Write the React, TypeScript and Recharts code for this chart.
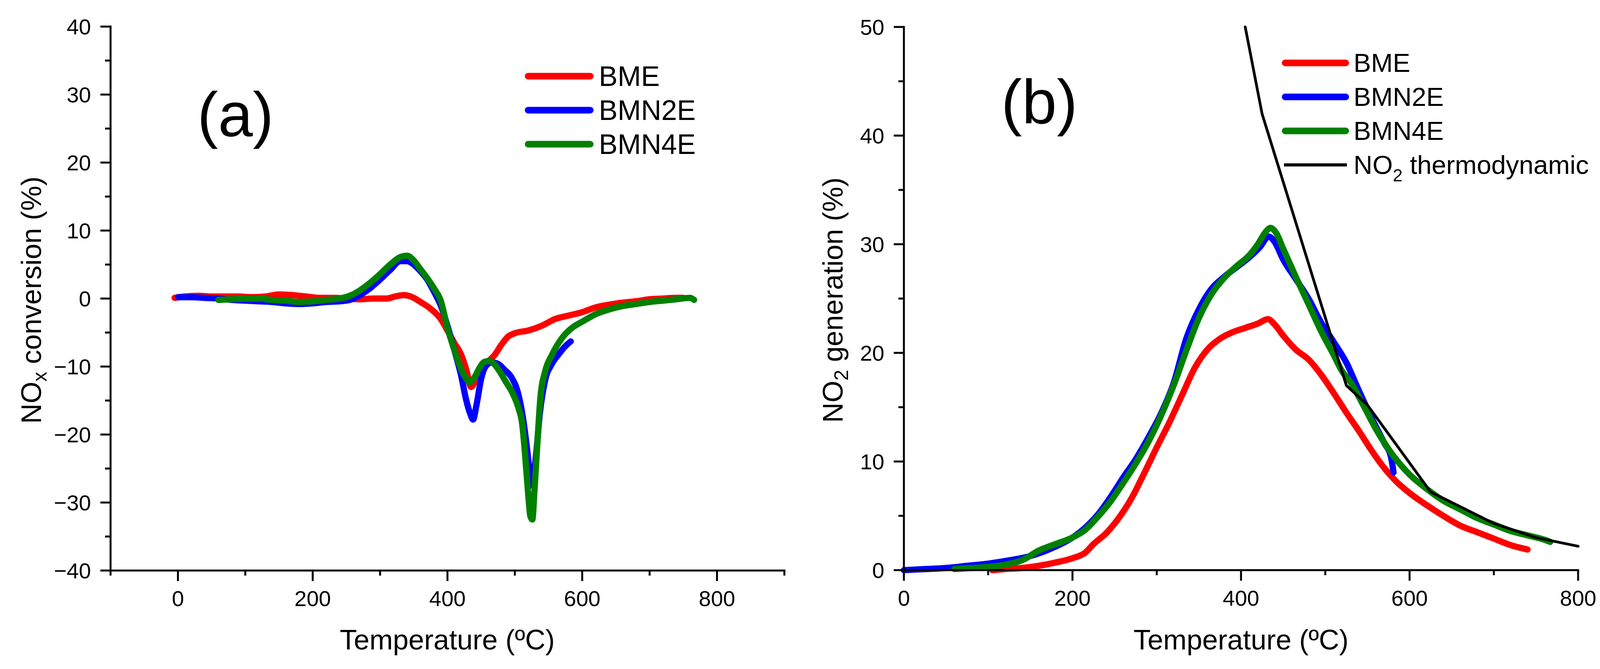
import React from 'react';
import { LineChart, Line, XAxis, YAxis } from 'recharts';

const FONT = '"Liberation Sans", Arial, Helvetica, sans-serif';

// ---- panel (a): NOx conversion ----
const bmeA_T = [-5, 10, 30, 50, 70, 90, 110, 130, 150, 170, 190, 210, 230, 250, 270, 290, 310, 322, 335, 348, 360, 375, 390, 400, 410, 420, 428, 435, 442, 450, 460, 470, 480, 490, 500, 520, 540, 560, 580, 600, 620, 640, 660, 680, 700, 720, 740, 750];
const bmeA_V = [0.1, 0.3, 0.4, 0.3, 0.3, 0.3, 0.2, 0.3, 0.6, 0.5, 0.3, 0.1, 0.1, 0.0, -0.1, 0.0, 0.0, 0.3, 0.5, 0.2, -0.5, -1.5, -3.0, -4.7, -6.5, -8.2, -10.5, -13.0, -12.0, -10.3, -9.3, -8.3, -6.8, -5.6, -5.1, -4.7, -4.0, -3.0, -2.5, -2.0, -1.3, -0.9, -0.6, -0.4, -0.1, 0.0, 0.1, 0.1];

const bmn2A_T = [0, 20, 40, 60, 80, 100, 120, 140, 160, 180, 200, 220, 240, 255, 270, 285, 300, 315, 330, 340, 350, 360, 370, 380, 390, 400, 410, 420, 428, 434, 438, 443, 450, 458, 466, 475, 485, 495, 505, 512, 518, 522, 525, 528, 532, 537, 545, 555, 565, 575, 583];
const bmn2A_V = [0.2, 0.2, 0.1, 0.0, -0.2, -0.3, -0.4, -0.5, -0.7, -0.8, -0.7, -0.5, -0.4, -0.2, 0.5, 1.5, 2.8, 4.2, 5.5, 5.5, 5.0, 4.0, 2.8, 1.0, -1.0, -4.0, -7.5, -11.2, -15.0, -17.0, -17.8, -15.7, -11.8, -9.8, -9.4, -9.6, -10.5, -11.6, -14.0, -17.5, -22.0, -25.5, -27.5, -26.0, -22.5, -17.0, -12.0, -9.6, -8.2, -7.0, -6.3];

const bmn4A_T = [60, 80, 100, 120, 140, 160, 180, 200, 220, 240, 255, 270, 285, 300, 315, 330, 340, 350, 360, 370, 380, 390, 400, 410, 420, 428, 433, 440, 447, 455, 462, 470, 478, 487, 496, 505, 511, 516, 520, 523, 526, 529, 533, 538, 545, 555, 570, 585, 600, 620, 640, 660, 680, 700, 720, 740, 760, 766];
const bmn4A_V = [-0.2, -0.1, 0.0, 0.0, -0.2, -0.3, -0.5, -0.4, -0.2, 0.0, 0.4, 1.2, 2.3, 3.6, 5.0, 6.1, 6.3, 5.6, 4.3, 3.0, 1.5, -0.3, -4.3, -7.5, -10.3, -11.8, -12.3, -11.6, -10.3, -9.3, -9.2, -9.7, -10.8, -12.3, -13.8, -16.0, -18.5, -24.0, -29.0, -32.0, -32.5, -28.5, -22.0, -14.5, -10.7, -8.3, -5.8, -4.3, -3.4, -2.3, -1.6, -1.1, -0.8, -0.5, -0.3, -0.1, 0.1, -0.2];

// ---- panel (b): NO2 generation ----
const bmeB_T = [105, 120, 140, 160, 180, 200, 215, 225, 240, 255, 270, 285, 300, 315, 330, 345, 360, 375, 390, 405, 420, 432, 440, 450, 465, 480, 495, 510, 525, 540, 555, 570, 585, 600, 620, 640, 660, 680, 700, 720, 740];
const bmeB_V = [0.0, 0.1, 0.2, 0.4, 0.7, 1.1, 1.6, 2.4, 3.4, 4.8, 6.6, 8.9, 11.3, 13.6, 16.1, 18.6, 20.3, 21.3, 21.9, 22.3, 22.7, 23.1, 22.6, 21.6, 20.3, 19.4, 18.0, 16.3, 14.5, 12.8, 11.0, 9.4, 8.1, 7.1, 6.0, 5.0, 4.1, 3.5, 2.9, 2.3, 1.9];

const bmn2B_T = [0, 25, 50, 75, 100, 125, 150, 175, 200, 215, 230, 245, 260, 275, 290, 305, 320, 335, 350, 365, 380, 395, 410, 422, 433, 440, 450, 465, 480, 495, 510, 525, 540, 555, 570, 578, 581];
const bmn2B_V = [0.0, 0.1, 0.2, 0.4, 0.6, 0.9, 1.3, 2.0, 3.0, 3.9, 5.1, 6.7, 8.5, 10.2, 12.2, 14.4, 17.2, 21.3, 24.0, 25.9, 27.0, 27.9, 28.8, 29.7, 30.7, 30.2, 28.6, 26.8, 25.0, 22.8, 21.0, 19.1, 16.5, 14.0, 11.7, 10.4, 9.0];

const bmn4B_T = [60, 80, 100, 120, 140, 160, 180, 200, 215, 230, 245, 260, 275, 290, 305, 320, 335, 350, 365, 380, 395, 410, 420, 428, 435, 442, 450, 465, 480, 495, 510, 520, 530, 545, 560, 580, 600, 620, 640, 660, 680, 700, 720, 740, 760, 767];
const bmn4B_V = [0.1, 0.2, 0.3, 0.5, 0.9, 1.8, 2.4, 3.0, 3.7, 4.9, 6.3, 8.0, 9.8, 11.8, 14.2, 17.0, 20.2, 23.2, 25.4, 26.9, 28.0, 29.0, 30.0, 31.0, 31.5, 31.0, 29.6, 27.0, 24.5, 22.0, 19.8, 18.3, 17.3, 15.2, 13.0, 10.6, 8.8, 7.5, 6.4, 5.6, 4.8, 4.2, 3.6, 3.2, 2.8, 2.6];

const thermo_T = [405, 425, 525, 550, 625, 700, 750, 800];
const thermo_V = [50, 42, 17, 15.2, 7.2, 4.3, 3.0, 2.2];

// ---- ticks ----
const xTicksA = [-100, 0, 100, 200, 300, 400, 500, 600, 700, 800, 900];
const yTicksA = [-40, -35, -30, -25, -20, -15, -10, -5, 0, 5, 10, 15, 20, 25, 30, 35, 40];
const xTicksB = [0, 100, 200, 300, 400, 500, 600, 700, 800];
const yTicksB = [0, 5, 10, 15, 20, 25, 30, 35, 40, 45, 50];

// legend entries
const seriesA = [
  { name: 'BME', color: '#ff0000', thin: false },
  { name: 'BMN2E', color: '#0000ff', thin: false },
  { name: 'BMN4E', color: '#008000', thin: false },
];
const seriesB = [...seriesA, { name: 'NO2 thermodynamic', color: '#000000', thin: true }];

const zip = (t: number[], v: number[]) => t.map((x, i) => ({ x, y: v[i] }));

const fmt = (v: number) => (v < 0 ? '\u2212' + Math.abs(v) : String(v));

const axisStyle = { stroke: '#000', strokeWidth: 5, strokeLinecap: 'square' as const };

const XTick = (props: any) => {
  const { x, y, payload } = props;
  const v = payload.value;
  const major = v % 200 === 0;
  return (
    <g>
      <line x1={x} y1={y} x2={x} y2={y + (major ? 27 : 13)} stroke="#000" strokeWidth={5} />
      {major && (
        <text x={x} y={y + 91} textAnchor="middle" fontSize={56} fontFamily={FONT} fill="#000">
          {fmt(v)}
        </text>
      )}
    </g>
  );
};

const YTick = (props: any) => {
  const { x, y, payload } = props;
  const v = payload.value;
  const major = v % 10 === 0;
  return (
    <g>
      <line x1={x} y1={y} x2={x - (major ? 26 : 14)} y2={y} stroke="#000" strokeWidth={5} />
      {major && (
        <text x={x - 50} y={y + 20} textAnchor="end" fontSize={56} fontFamily={FONT} fill="#000">
          {fmt(v)}
        </text>
      )}
    </g>
  );
};

const legendName = (name: string, size: number) => {
  if (name.startsWith('NO2')) {
    const sub = Math.round(size * 0.67);
    const shift = Math.round(size * 0.28);
    return (
      <>
        NO<tspan fontSize={sub} dy={shift}>2</tspan>
        <tspan dy={-shift}>{name.slice(3)}</tspan>
      </>
    );
  }
  return name;
};

type LegendProps = { items: typeof seriesB; x1: number; x2: number; textX: number; firstY: number; size: number };

function LegendBlock({ items, x1, x2, textX, firstY, size }: LegendProps) {
  return (
    <g>
      {items.map((it, i) => {
        const y = firstY + i * 87;
        return (
          <g key={it.name}>
            <line
              x1={it.thin ? x1 - 3 : x1}
              x2={it.thin ? x2 + 3 : x2}
              y1={y}
              y2={y}
              stroke={it.color}
              strokeWidth={it.thin ? 8 : 17}
              strokeLinecap={it.thin ? 'butt' : 'round'}
            />
            <text x={textX} y={y + Math.round(size * 0.35)} fontSize={size} fontFamily={FONT} fill="#000">
              {legendName(it.name, size)}
            </text>
          </g>
        );
      })}
    </g>
  );
}

const lineProps = {
  dot: false,
  activeDot: false,
  isAnimationActive: false,
  type: 'monotone' as const,
  dataKey: 'y',
  strokeLinecap: 'round' as const,
  strokeLinejoin: 'round' as const,
};

function PanelA() {
  return (
    <LineChart width={2050} height={1712} margin={{ top: 68, right: 42, bottom: 102, left: 133 }}>
      <XAxis type="number" dataKey="x" domain={[-100, 900]} ticks={xTicksA} interval={0}
        tickSize={0} tickMargin={0} tickLine={false} axisLine={axisStyle} tick={XTick} height={150} />
      <YAxis type="number" domain={[-40, 40]} ticks={yTicksA} interval={0}
        tickSize={0} tickMargin={0} tickLine={false} axisLine={axisStyle} tick={YTick} width={150} />
      <Line {...lineProps} data={zip(bmeA_T, bmeA_V)} name="BME" stroke="#ff0000" strokeWidth={16} />
      <Line {...lineProps} data={zip(bmn2A_T, bmn2A_V)} name="BMN2E" stroke="#0000ff" strokeWidth={16} />
      <Line {...lineProps} data={zip(bmn4A_T, bmn4A_V)} name="BMN4E" stroke="#008000" strokeWidth={16} />
      <LegendBlock items={seriesA} x1={1352} x2={1511} textX={1533} firstY={195} size={72} />
      <text x={505} y={348} fontSize={160} fontFamily={FONT} fill="#000">(a)</text>
      <text x={1145} y={1662} textAnchor="middle" fontSize={72} fontFamily={FONT} fill="#000">Temperature (ºC)</text>
      <text transform="translate(105,768) rotate(-90)" textAnchor="middle" fontSize={72} fontFamily={FONT} fill="#000">
        NO<tspan fontSize={50} dy={14}>x</tspan><tspan dy={-14}> conversion (%)</tspan>
      </text>
    </LineChart>
  );
}

function PanelB() {
  return (
    <LineChart width={2135} height={1712} margin={{ top: 69, right: 145, bottom: 103, left: 114 }}>
      <XAxis type="number" dataKey="x" domain={[0, 800]} ticks={xTicksB} interval={0}
        tickSize={0} tickMargin={0} tickLine={false} axisLine={axisStyle} tick={XTick} height={150} />
      <YAxis type="number" domain={[0, 50]} ticks={yTicksB} interval={0}
        tickSize={0} tickMargin={0} tickLine={false} axisLine={axisStyle} tick={YTick} width={150} />
      <Line {...lineProps} data={zip(bmeB_T, bmeB_V)} name="BME" stroke="#ff0000" strokeWidth={16} />
      <Line {...lineProps} data={zip(bmn2B_T, bmn2B_V)} name="BMN2E" stroke="#0000ff" strokeWidth={16} />
      <Line {...lineProps} data={zip(bmn4B_T, bmn4B_V)} name="BMN4E" stroke="#008000" strokeWidth={16} />
      <Line {...lineProps} type="linear" data={zip(thermo_T, thermo_V)} name="NO2 thermodynamic" stroke="#000000" strokeWidth={7} />
      <LegendBlock items={seriesB} x1={1240} x2={1395} textX={1415} firstY={161} size={67} />
      <text x={513} y={316} fontSize={160} fontFamily={FONT} fill="#000">(b)</text>
      <text x={1127} y={1662} textAnchor="middle" fontSize={72} fontFamily={FONT} fill="#000">Temperature (ºC)</text>
      <text transform="translate(107,768) rotate(-90)" textAnchor="middle" fontSize={72} fontFamily={FONT} fill="#000">
        NO<tspan fontSize={50} dy={14}>2</tspan><tspan dy={-14}> generation (%)</tspan>
      </text>
    </LineChart>
  );
}

export default function App() {
  return (
    <div style={{ position: 'absolute', left: 0, top: 0, width: 4185, height: 1712, background: '#fff', fontFamily: FONT }}>
      <div style={{ position: 'absolute', left: 0, top: 0 }}>
        <PanelA />
      </div>
      <div style={{ position: 'absolute', left: 2050, top: 0 }}>
        <PanelB />
      </div>
    </div>
  );
}
